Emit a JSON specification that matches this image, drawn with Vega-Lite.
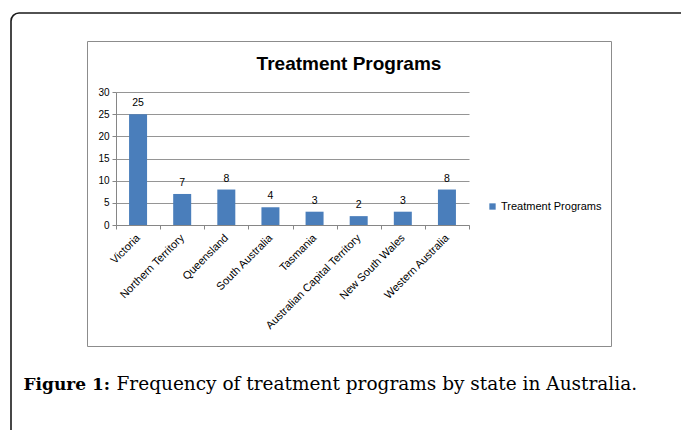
{
  "$schema": "https://vega.github.io/schema/vega-lite/v6.json",
  "width": 524,
  "height": 305,
  "autosize": {"type": "none"},
  "padding": {"left": 87, "top": 41, "right": 70, "bottom": 84},
  "background": "white",
  "view": {"stroke": "#8c8c8c", "strokeWidth": 1, "fill": "white"},
  "title": {
    "text": "Treatment Programs",
    "anchor": "middle",
    "frame": "group",
    "orient": "top",
    "offset": -77,
    "baseline": "alphabetic",
    "font": "Liberation Sans",
    "fontSize": 19,
    "fontWeight": "bold",
    "color": "#000000"
  },
  "data": {
    "values": [
      {"state": "Victoria", "programs": 25},
      {"state": "Northern Territory", "programs": 7},
      {"state": "Queensland", "programs": 8},
      {"state": "South Australia", "programs": 4},
      {"state": "Tasmania", "programs": 3},
      {"state": "Australian Capital Territory", "programs": 2},
      {"state": "New South Wales", "programs": 3},
      {"state": "Western Australia", "programs": 8}
    ]
  },
  "encoding": {
    "x": {
      "field": "state",
      "type": "nominal",
      "sort": null,
      "scale": {"range": [29, 382], "paddingInner": 0, "paddingOuter": 0},
      "axis": {
        "orient": "bottom",
        "offset": -121,
        "tickBand": "extent",
        "tickSize": 4,
        "labelAngle": -45,
        "labelAlign": "right",
        "labelBaseline": "middle",
        "labelPadding": 7,
        "labelLimit": 0,
        "labelFontSize": 11,
        "grid": false,
        "title": "Frequency of treatment programs by state in Australia.",
        "titleX": 29,
        "titleY": 164,
        "titleAlign": "left",
        "titleAnchor": null,
        "titleBaseline": "alphabetic",
        "titleFont": "DejaVu Serif",
        "titleFontSize": 18.5,
        "titleFontWeight": "normal",
        "titleColor": "#000000"
      }
    },
    "y": {
      "field": "programs",
      "type": "quantitative",
      "scale": {"domain": [0, 30], "range": [184, 51], "nice": false, "zero": true},
      "axis": {
        "orient": "left",
        "offset": -29,
        "values": [0, 5, 10, 15, 20, 25, 30],
        "grid": true,
        "tickSize": 4,
        "labelPadding": 3,
        "title": "Figure 1:",
        "titleAngle": 0,
        "titleX": -93,
        "titleY": 348,
        "titleAlign": "left",
        "titleAnchor": null,
        "titleBaseline": "alphabetic",
        "titleFont": "DejaVu Serif",
        "titleFontSize": 17,
        "titleFontWeight": "bold",
        "titleColor": "#000000"
      }
    }
  },
  "layer": [
    {
      "mark": {"type": "bar", "width": 18},
      "encoding": {
        "color": {
          "datum": "Treatment Programs",
          "type": "nominal",
          "scale": {"range": ["#4A7EBB"]},
          "legend": {
            "orient": "none",
            "legendX": 400,
            "legendY": 160,
            "title": null,
            "symbolType": "square",
            "symbolSize": 40,
            "symbolStrokeWidth": 0,
            "labelFont": "Liberation Sans",
            "labelFontSize": 11,
            "labelColor": "#000000",
            "labelOffset": 3
          }
        }
      }
    },
    {
      "mark": {"type": "text", "dy": -8, "baseline": "alphabetic", "font": "Liberation Sans", "fontSize": 10.5, "color": "#000000"},
      "encoding": {
        "text": {"field": "programs", "type": "quantitative"},
        "opacity": {
          "datum": "frame",
          "type": "ordinal",
          "scale": {"range": [1]},
          "legend": {
            "orient": "none",
            "legendX": -76,
            "legendY": -28,
            "padding": 600,
            "strokeColor": "#1a1a1a",
            "cornerRadius": 8,
            "title": null,
            "symbolOpacity": 0,
            "labelOpacity": 0,
            "labelExpr": "''"
          }
        }
      }
    }
  ],
  "config": {
    "legend": {"strokeWidth": 1.6},
    "axis": {
      "labelFont": "Liberation Sans",
      "labelFontSize": 10,
      "labelColor": "#000000",
      "domainColor": "#868686",
      "tickColor": "#868686",
      "gridColor": "#959595"
    }
  }
}
